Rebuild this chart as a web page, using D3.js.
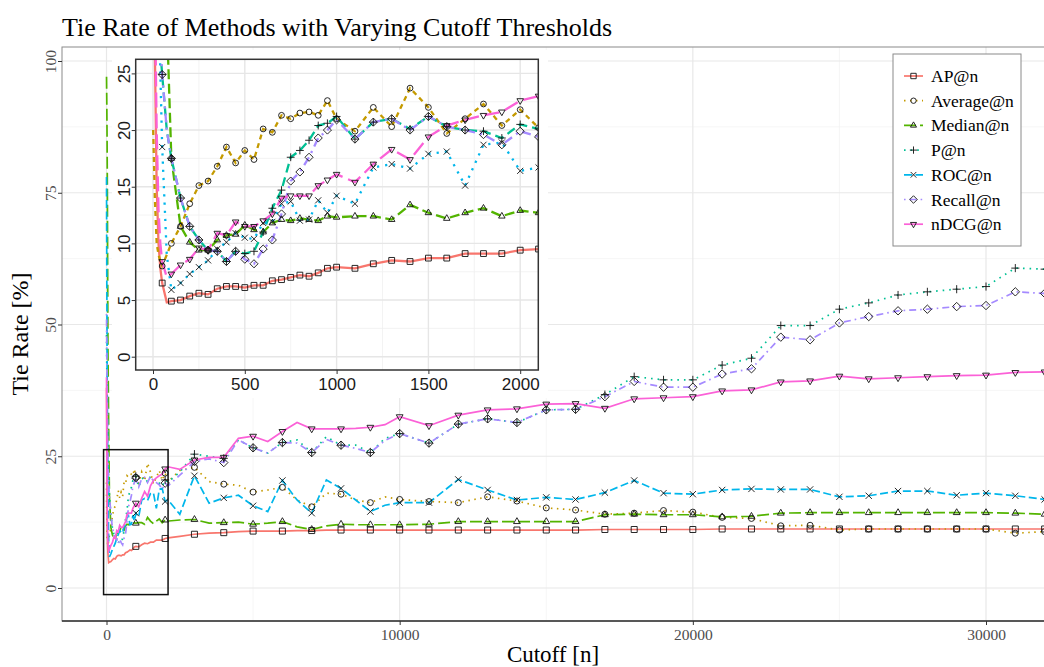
<!DOCTYPE html>
<html>
<head>
<meta charset="utf-8">
<script src="https://cdn.jsdelivr.net/npm/d3@7"></script>
<style>
body { margin: 0; background: #fff; }
svg { display: block; }
</style>
</head>
<body>
<script>
// methods, in legend / drawing order
const methods = ["AP@n", "Average@n", "Median@n", "P@n", "ROC@n", "Recall@n", "nDCG@n"];
const colors = ["#F8766D", "#C49A00", "#53B400", "#00C094", "#00B6EB", "#A58AFF", "#FB61D7"];
const shapes = ["square", "circle", "triangle", "plus", "cross", "diamond", "triangleDown"];

// cutoffs covered by the zoomed panel (and the start of the big one)
const earlyCutoffs = [1, 10, 20, 30, 40, 50, 75, 100, 150, 200, 250, 300, 350, 400, 450, 500,
  550, 600, 650, 700, 750, 800, 850, 900, 950, 1000, 1100, 1200, 1300, 1400, 1500, 1600,
  1700, 1800, 1900, 2000, 2100];
// remaining cutoffs of the big panel
const lateCutoffs = [2500, 3000, 3500, 4000, 4500, 5000, 5500, 6000, 6500, 7000, 7500, 8000,
  8500, 9000, 9500, 10000, 11000, 12000, 13000, 14000, 15000, 16000, 17000, 18000, 19000,
  20000, 21000, 22000, 23000, 24000, 25000, 26000, 27000, 28000, 29000, 30000, 31000, 32000];

// tie rate [%]
const apEarly = [38, 27, 15, 10, 7.8, 6.5, 4.8, 4.9, 5.0, 5.35, 5.6, 5.5, 6.0, 6.2, 6.2, 6.1, 6.3, 6.3, 6.7, 6.8, 7.0, 7.2, 7.1, 7.4, 7.8, 7.9, 7.8, 8.2, 8.5, 8.4, 8.7, 8.7, 9.1, 9.1, 9.1, 9.4, 9.5];
const avgEarly = [20, 14, 10, 9, 8.4, 8.0, 9.0, 10.0, 11.5, 13.5, 15.1, 15.5, 16.8, 18.5, 17.1, 18.2, 17.4, 20.1, 19.8, 21.3, 21.0, 21.5, 21.6, 21.3, 22.6, 21.0, 19.9, 22.0, 20.3, 23.7, 22.0, 19.7, 21.0, 22.3, 20.4, 21.8, 20.2];
const medEarly = [97, 92, 85, 75, 60, 45, 30, 17.5, 11.5, 10.1, 9.4, 9.4, 10.3, 10.7, 10.8, 11.6, 11.2, 11.0, 11.8, 12.1, 12.0, 12.2, 12.1, 12.0, 12.4, 12.3, 12.4, 12.4, 12.1, 13.4, 12.7, 12.2, 12.7, 13.1, 12.4, 12.9, 12.7];
const pEarly = [48, 42, 36, 31, 27, 24.9, 20, 17.5, 14.0, 11.5, 10.3, 9.4, 9.3, 8.4, 9.3, 9.1, 9.3, 11.0, 13.1, 14.7, 17.6, 18.2, 19.1, 20.4, 20.6, 21.2, 19.2, 20.7, 21.0, 20.1, 21.2, 20.3, 20.0, 19.9, 19.3, 20.5, 20.1];
const rocEarly = [78, 60, 45, 34, 25, 18.5, 9, 5.9, 6.5, 7.3, 7.9, 8.5, 9.5, 10.1, 10.9, 10.5, 10.4, 11.8, 11.9, 13.5, 13.7, 12.0, 12.1, 13.8, 12.7, 14.2, 13.5, 16.7, 17.0, 16.6, 17.9, 18.1, 15.1, 18.7, 18.9, 16.4, 16.7];
const recallEarly = [52, 45, 38, 33, 28, 24.9, 20, 17.5, 14.0, 11.5, 10.3, 9.4, 9.3, 8.4, 9.3, 8.6, 8.2, 9.5, 10.3, 12.6, 15.5, 16.3, 17.6, 19.3, 20.0, 20.9, 19.2, 20.7, 21.0, 20.0, 21.2, 20.3, 20.0, 19.6, 18.7, 19.9, 19.4];
const ndcgEarly = [40, 32, 20, 13, 10, 8.4, 7.0, 7.3, 8.1, 8.6, 9.6, 9.4, 10.9, 10.7, 11.9, 11.5, 11.5, 12.0, 12.6, 14.0, 14.2, 14.2, 14.2, 15.1, 15.6, 16.1, 15.4, 17.0, 18.3, 17.4, 19.4, 20.4, 20.9, 21.3, 21.6, 22.6, 23.0];

const apLate = [9.8, 10.2, 10.4, 10.5, 10.7, 10.8, 10.8, 10.8, 10.9, 10.9, 11.0, 11.0, 11.0, 11.0, 11.0, 11.0, 11.0, 11.0, 11.0, 11.0, 11.0, 11.0, 11.1, 11.1, 11.1, 11.1, 11.2, 11.2, 11.2, 11.2, 11.2, 11.2, 11.2, 11.2, 11.2, 11.2, 11.2, 11.2];
const avgLate = [22.3, 22.9, 20.2, 19.7, 19.5, 18.2, 18.6, 19.1, 16.7, 15.4, 18.0, 17.8, 16.7, 16.2, 17.3, 16.8, 16.4, 16.2, 17.3, 16.5, 15.2, 14.8, 14.0, 14.2, 14.7, 14.4, 13.4, 13.2, 11.8, 11.9, 11.0, 11.2, 11.2, 11.2, 11.2, 11.2, 10.4, 10.7];
const medLate = [12.9, 13.0, 12.3, 12.4, 12.5, 12.1, 12.3, 12.6, 11.6, 11.1, 11.8, 12.1, 12.0, 12.0, 12.0, 12.0, 12.1, 12.6, 12.6, 12.6, 12.6, 12.6, 13.9, 14.0, 13.9, 13.9, 13.5, 13.6, 14.2, 14.3, 14.3, 14.3, 14.3, 14.3, 14.3, 14.3, 14.2, 14.0];
const pLate = [22.0, 25.4, 25.0, 24.6, 28.1, 26.6, 25.6, 27.6, 28.1, 25.7, 28.7, 27.1, 27.1, 25.7, 28.4, 29.3, 27.5, 31.1, 32.1, 31.4, 33.8, 33.9, 36.7, 40.1, 39.5, 39.5, 42.3, 43.6, 49.8, 49.8, 52.9, 54.1, 55.6, 56.2, 56.7, 57.2, 60.7, 60.5];
const rocLate = [14.0, 21.3, 16.1, 17.1, 17.6, 15.6, 14.5, 20.4, 16.7, 14.2, 20.5, 18.9, 16.7, 14.5, 15.7, 16.2, 16.2, 20.6, 18.6, 16.7, 17.2, 16.8, 18.1, 20.4, 18.0, 17.8, 18.6, 18.8, 18.7, 18.7, 17.3, 17.5, 18.4, 18.4, 17.6, 18.0, 17.5, 16.8];
const recallLate = [21.4, 24.0, 24.5, 23.8, 28.1, 26.6, 25.6, 27.6, 27.5, 25.7, 28.2, 27.1, 26.5, 25.7, 28.0, 29.3, 27.5, 31.1, 32.1, 31.4, 33.8, 33.9, 36.3, 39.2, 38.1, 38.1, 40.6, 41.6, 47.6, 47.1, 50.3, 51.5, 52.6, 52.9, 53.4, 53.6, 56.2, 55.9];
const ndcgLate = [22.5, 24.3, 24.8, 24.8, 28.4, 28.8, 27.8, 29.7, 31.4, 30.2, 30.2, 30.2, 30.3, 30.5, 31.0, 32.5, 30.8, 32.8, 33.8, 34.0, 34.9, 35.0, 34.1, 35.9, 36.1, 36.3, 37.4, 37.6, 39.1, 39.3, 40.2, 39.7, 39.9, 40.1, 40.3, 40.4, 40.9, 41.0];

const mainXTicks = [0, 10000, 20000, 30000];
const mainYTicks = [0, 25, 50, 75, 100];
const insetXTicks = [0, 500, 1000, 1500, 2000];
const insetYTicks = [0, 5, 10, 15, 20, 25];

const earlyValues = [apEarly, avgEarly, medEarly, pEarly, rocEarly, recallEarly, ndcgEarly];
const lateValues = [apLate, avgLate, medLate, pLate, rocLate, recallLate, ndcgLate];

const series = methods.map(function(name, i) {
    const early = earlyCutoffs.map((n, j) => ({ n: n, v: earlyValues[i][j] }));
    const late = lateCutoffs.map((n, j) => ({ n: n, v: lateValues[i][j] }));
    return { name: name, i: i, early: early, all: early.concat(late) };
});

// line styles
const mainDash = [null, "1.5,4.5", "12,4", "1.6,5", "8,3.5", "1.6,4,7,4", null];
const insetDash = [null, "5,4", "10,4.5", "9,5", "2.2,6", "2.2,5,9,5", "15,6"];

const serif = "'Liberation Serif', 'Times New Roman', serif";
const sans = "'Liberation Sans', Arial, Helvetica, sans-serif";

const svg = d3.select("body").append("svg")
    .attr("width", 1044)
    .attr("height", 667);

function shapePath(shape, r) {
    switch (shape) {
        case "square": return `M${-r},${-r}H${r}V${r}H${-r}Z`;
        case "circle": return `M${r},0A${r},${r} 0 1,1 ${-r},0A${r},${r} 0 1,1 ${r},0Z`;
        case "triangle": { const R = r * 1.3; return `M0,${-R}L${R * 0.866},${R * 0.5}L${-R * 0.866},${R * 0.5}Z`; }
        case "triangleDown": { const R = r * 1.3; return `M0,${R}L${R * 0.866},${-R * 0.5}L${-R * 0.866},${-R * 0.5}Z`; }
        case "plus": { const s = r * 1.35; return `M${-s},0H${s}M0,${-s}V${s}`; }
        case "cross": { const s = r * 1.05; return `M${-s},${-s}L${s},${s}M${-s},${s}L${s},${-s}`; }
        case "diamond": { const s = r * 1.4; return `M0,${-s}L${s},0L0,${s}L${-s},0Z`; }
    }
}

// ---------------- main panel ----------------
const main = { left: 62, top: 47, right: 1050, bottom: 621 };
const x = d3.scaleLinear().domain([0, 30000]).range([106.5, 986]);
const y = d3.scaleLinear().domain([0, 100]).range([588, 61]);

svg.append("text")
    .attr("x", 62).attr("y", 36)
    .style("font-family", serif).style("font-size", "26px").style("fill", "#000")
    .text("Tie Rate of Methods with Varying Cutoff Thresholds");

svg.append("rect")
    .attr("x", main.left).attr("y", main.top)
    .attr("width", main.right - main.left).attr("height", main.bottom - main.top)
    .attr("fill", "#fff");

const grid = svg.append("g");
const minorX = mainXTicks.slice(1).map((t, k) => (t + mainXTicks[k]) / 2);
const minorY = mainYTicks.slice(1).map((t, k) => (t + mainYTicks[k]) / 2);
grid.selectAll(".mnx").data(minorX).join("line")
    .attr("x1", d => x(d)).attr("x2", d => x(d)).attr("y1", main.top).attr("y2", main.bottom)
    .attr("stroke", "#f2f2f2").attr("stroke-width", 0.7);
grid.selectAll(".mny").data(minorY).join("line")
    .attr("y1", d => y(d)).attr("y2", d => y(d)).attr("x1", main.left).attr("x2", main.right)
    .attr("stroke", "#f2f2f2").attr("stroke-width", 0.7);
grid.selectAll(".mjx").data(mainXTicks).join("line")
    .attr("x1", d => x(d)).attr("x2", d => x(d)).attr("y1", main.top).attr("y2", main.bottom)
    .attr("stroke", "#e8e8e8").attr("stroke-width", 1.2);
grid.selectAll(".mjy").data(mainYTicks).join("line")
    .attr("y1", d => y(d)).attr("y2", d => y(d)).attr("x1", main.left).attr("x2", main.right)
    .attr("stroke", "#e8e8e8").attr("stroke-width", 1.2);

svg.append("clipPath").attr("id", "mainClip").append("rect")
    .attr("x", main.left).attr("y", main.top)
    .attr("width", main.right - main.left).attr("height", main.bottom - main.top);

const mainLayer = svg.append("g").attr("clip-path", "url(#mainClip)");
const mainLine = d3.line().x(d => x(d.n)).y(d => y(d.v));

mainLayer.selectAll(".mline").data(series).join("path")
    .attr("d", d => mainLine(d.all))
    .attr("fill", "none")
    .attr("stroke", d => colors[d.i])
    .attr("stroke-width", 1.7)
    .attr("stroke-dasharray", d => mainDash[d.i]);

series.forEach(function(s) {
    mainLayer.selectAll(null)
        .data(s.all.filter(d => d.n >= 1000 && d.n % 1000 === 0))
        .join("path")
        .attr("transform", d => `translate(${x(d.n)},${y(d.v)})`)
        .attr("d", shapePath(shapes[s.i], 3))
        .attr("fill", "none").attr("stroke", "#111").attr("stroke-width", 0.9);
});

// area shown in the zoomed panel
mainLayer.append("rect")
    .attr("x", x(-100)).attr("y", y(26.25))
    .attr("width", x(2100) - x(-100)).attr("height", y(-1.25) - y(26.25))
    .attr("fill", "none").attr("stroke", "#111").attr("stroke-width", 1.5);

svg.append("rect")
    .attr("x", main.left).attr("y", main.top)
    .attr("width", main.right - main.left).attr("height", main.bottom - main.top)
    .attr("fill", "none").attr("stroke", "#8a8a8a").attr("stroke-width", 1);
svg.append("line")
    .attr("x1", main.left).attr("x2", main.right).attr("y1", main.bottom).attr("y2", main.bottom)
    .attr("stroke", "#333").attr("stroke-width", 1.6);

const xAxis = svg.append("g")
    .attr("transform", `translate(0,${main.bottom})`)
    .call(d3.axisBottom(x).tickValues(mainXTicks).tickFormat(d3.format("d")).tickSize(4).tickSizeOuter(0));
xAxis.select(".domain").remove();
xAxis.selectAll("line").attr("stroke", "#333");
xAxis.selectAll("text").attr("y", 8)
    .style("font-family", serif).style("font-size", "15.5px").style("fill", "#4d4d4d");

const yAxis = svg.append("g")
    .attr("transform", `translate(${main.left},0)`)
    .call(d3.axisLeft(y).tickValues(mainYTicks).tickSize(4).tickSizeOuter(0));
yAxis.select(".domain").remove();
yAxis.selectAll("line").attr("stroke", "#333");
yAxis.selectAll("text")
    .attr("transform", "rotate(-90)")
    .attr("x", 0).attr("y", -6).attr("dy", null)
    .attr("text-anchor", "middle")
    .style("font-family", serif).style("font-size", "15.5px").style("fill", "#4d4d4d");

svg.append("text")
    .attr("x", (main.left + 1044) / 2).attr("y", 662)
    .attr("text-anchor", "middle")
    .style("font-family", serif).style("font-size", "23px")
    .text("Cutoff [n]");
svg.append("text")
    .attr("transform", `translate(28,${(main.top + main.bottom) / 2}) rotate(-90)`)
    .attr("text-anchor", "middle")
    .style("font-family", serif).style("font-size", "24px")
    .text("Tie Rate [%]");

// ---------------- inset panel ----------------
const inset = { left: 135.7, top: 59.3, right: 538.3, bottom: 370 };
const xi = d3.scaleLinear().domain([0, 2000]).range([153, 520.2]);
const yi = d3.scaleLinear().domain([0, 25]).range([356.7, 73.4]);

svg.append("rect")
    .attr("x", 112).attr("y", 50).attr("width", 436).attr("height", 348)
    .attr("fill", "#fff");

const igrid = svg.append("g");
const iminorX = insetXTicks.slice(1).map((t, k) => (t + insetXTicks[k]) / 2);
const iminorY = insetYTicks.slice(1).map((t, k) => (t + insetYTicks[k]) / 2);
igrid.selectAll(".imx").data(iminorX).join("line")
    .attr("x1", d => xi(d)).attr("x2", d => xi(d)).attr("y1", inset.top).attr("y2", inset.bottom)
    .attr("stroke", "#f0f0f0").attr("stroke-width", 0.8);
igrid.selectAll(".imy").data(iminorY).join("line")
    .attr("y1", d => yi(d)).attr("y2", d => yi(d)).attr("x1", inset.left).attr("x2", inset.right)
    .attr("stroke", "#f0f0f0").attr("stroke-width", 0.8);
igrid.selectAll(".ijx").data(insetXTicks).join("line")
    .attr("x1", d => xi(d)).attr("x2", d => xi(d)).attr("y1", inset.top).attr("y2", inset.bottom)
    .attr("stroke", "#e6e6e6").attr("stroke-width", 1.4);
igrid.selectAll(".ijy").data(insetYTicks).join("line")
    .attr("y1", d => yi(d)).attr("y2", d => yi(d)).attr("x1", inset.left).attr("x2", inset.right)
    .attr("stroke", "#e6e6e6").attr("stroke-width", 1.4);

svg.append("clipPath").attr("id", "insetClip").append("rect")
    .attr("x", inset.left).attr("y", inset.top)
    .attr("width", inset.right - inset.left).attr("height", inset.bottom - inset.top);

const insetLayer = svg.append("g").attr("clip-path", "url(#insetClip)");
const insetLine = d3.line().x(d => xi(d.n)).y(d => yi(d.v));

insetLayer.selectAll(".iline").data(series).join("path")
    .attr("d", d => insetLine(d.early))
    .attr("fill", "none")
    .attr("stroke", d => colors[d.i])
    .attr("stroke-width", 2.3)
    .attr("stroke-dasharray", d => insetDash[d.i]);

series.forEach(function(s) {
    insetLayer.selectAll(null)
        .data(s.early.filter(d => d.n >= 50 && (d.n <= 1000 ? d.n % 50 === 0 : d.n % 100 === 0)))
        .join("path")
        .attr("transform", d => `translate(${xi(d.n)},${yi(d.v)})`)
        .attr("d", shapePath(shapes[s.i], 2.9))
        .attr("fill", "none").attr("stroke", "#111").attr("stroke-width", 0.9);
});

svg.append("rect")
    .attr("x", inset.left).attr("y", inset.top)
    .attr("width", inset.right - inset.left).attr("height", inset.bottom - inset.top)
    .attr("fill", "none").attr("stroke", "#333").attr("stroke-width", 1.5);

const xiAxis = svg.append("g")
    .attr("transform", `translate(0,${inset.bottom})`)
    .call(d3.axisBottom(xi).tickValues(insetXTicks).tickFormat(d3.format("d")).tickSize(4).tickSizeOuter(0));
xiAxis.select(".domain").remove();
xiAxis.selectAll("line").attr("stroke", "#333");
xiAxis.selectAll("text").attr("y", 8)
    .style("font-family", sans).style("font-size", "17px").style("fill", "#1a1a1a");

const yiAxis = svg.append("g")
    .attr("transform", `translate(${inset.left},0)`)
    .call(d3.axisLeft(yi).tickValues(insetYTicks).tickSize(4).tickSizeOuter(0));
yiAxis.select(".domain").remove();
yiAxis.selectAll("line").attr("stroke", "#333");
yiAxis.selectAll("text")
    .attr("transform", "rotate(-90)")
    .attr("x", 0).attr("y", -6).attr("dy", null)
    .attr("text-anchor", "middle")
    .style("font-family", sans).style("font-size", "17px").style("fill", "#1a1a1a");

// ---------------- legend ----------------
const legend = svg.append("g").attr("transform", "translate(893,54)");
legend.append("rect")
    .attr("width", 128).attr("height", 192)
    .attr("fill", "#fff").attr("stroke", "#8a8a8a").attr("stroke-width", 1);

const rows = legend.selectAll(".row").data(series).join("g")
    .attr("transform", d => `translate(0,${22 + d.i * 24.7})`);
rows.append("line")
    .attr("x1", 11).attr("x2", 30)
    .attr("stroke", d => colors[d.i]).attr("stroke-width", 1.7)
    .attr("stroke-dasharray", d => mainDash[d.i]);
rows.append("path")
    .attr("transform", "translate(20.5,0)")
    .attr("d", d => shapePath(shapes[d.i], 2.7))
    .attr("fill", "none").attr("stroke", "#111").attr("stroke-width", 0.9);
rows.append("text")
    .attr("x", 38).attr("y", 6)
    .style("font-family", serif).style("font-size", "17.5px").style("fill", "#000")
    .text(d => d.name);
</script>
</body>
</html>
